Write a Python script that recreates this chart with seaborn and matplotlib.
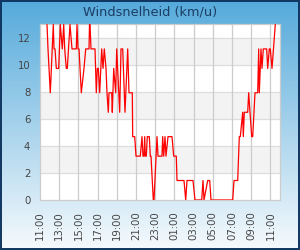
import numpy as np
import pandas as pd
import matplotlib
matplotlib.use("Agg")
import matplotlib.pyplot as plt
from matplotlib.patches import Rectangle
import seaborn as sns

px = [47, 48, 50.3, 53.3, 54, 55, 56.3, 58.7, 60.3, 62.3, 63.7, 64.7, 66.3, 67.3, 70, 72, 76.3, 77, 78, 79,
      81.3, 84, 85.7, 89, 89.5, 90, 91, 95, 96.3, 97.3, 98.3, 99.7, 101.7, 103, 104.3, 106, 107, 108.3, 109,
      111.7, 112.3, 113.7, 115.7, 116.7, 119.7, 121, 122.7, 125, 127.7, 129, 132.3, 132.7, 134.7, 136, 140.3,
      142, 143, 144, 144.7, 145.3, 146.3, 147.3, 149.3, 150.3, 151, 153.3, 154, 157, 158, 162, 162.7, 163.7,
      165, 166, 168, 172, 173.7, 176.3, 177, 184, 185.7, 187, 193, 195, 201.7, 203, 204, 207.7, 209.7, 211,
      232.7, 234, 237.7, 239.3, 240.3, 242.7, 243.3, 244.3, 247.7, 248.7, 250, 251.7, 252.7, 255, 257.7,
      258.7, 259.3, 261, 262, 263.3, 266.7, 267.7, 269.3, 270.3, 272, 275.3]
speed = [12.96, 11.16, 7.92, 12.96, 11.16, 11.16, 9.72, 9.72, 12.96, 11.16, 12.96, 11.16, 9.72, 9.72, 12.96,
         11.16, 11.16, 12.96, 11.16, 11.16, 7.92, 9.72, 11.16, 11.16, 12.96, 12.96, 11.16, 11.16, 7.92, 9.72,
         9.72, 7.92, 11.16, 9.72, 11.16, 9.72, 7.92, 6.48, 7.92, 7.92, 6.48, 9.72, 7.92, 11.16, 6.48, 11.16,
         11.16, 6.48, 11.16, 7.92, 7.92, 4.68, 4.68, 3.24, 3.24, 4.68, 3.24, 3.24, 4.68, 3.24, 3.24, 4.68,
         4.68, 3.24, 3.24, 0, 0, 4.68, 3.24, 3.24, 4.68, 3.24, 4.68, 3.24, 4.68, 4.68, 3.24, 3.24, 1.44,
         1.44, 0, 1.44, 1.44, 0, 0, 1.44, 0, 1.44, 1.44, 0, 0, 1.44, 1.44, 4.68, 4.68, 6.48, 4.68, 6.48,
         6.48, 7.92, 6.48, 4.68, 4.68, 7.92, 7.92, 11.16, 7.92, 11.16, 9.72, 11.16, 11.16, 9.72, 11.16,
         11.16, 9.72, 12.96]
hours = [(p - 40) / 9.6 for p in px]

tick_hours = list(range(0, 25, 2))
tick_labels = ["11:00", "13:00", "15:00", "17:00", "19:00", "21:00", "23:00",
               "01:00", "03:00", "05:00", "07:00", "09:00", "11:00"]
y_ticks = [0, 2, 4, 6, 8, 10, 12]
title = "Windsnelheid (km/u)"

df = pd.DataFrame({"uur": hours, "snelheid": speed})

sns.set_style("white")
plt.rcParams['font.family'] = ['DejaVu Sans']

fig = plt.figure(figsize=(3, 2.5), dpi=100)

# gradient background
bg = fig.add_axes([0, 0, 1, 1], zorder=-10)
top = np.array([85, 170, 219]) / 255
bot = np.array([246, 250, 253]) / 255
t = np.linspace(0, 1, 250)[:, None]
grad = (top[None, :] * (1 - t) + bot[None, :] * t)[:, None, :]
bg.imshow(grad, aspect='auto', extent=[0, 1, 0, 1])
bg.set_axis_off()
fig.patches.append(Rectangle((0.002, 0.003), 0.995, 0.994, transform=fig.transFigure,
                             fill=False, edgecolor='#0f3560', linewidth=1.4))

ax = fig.add_axes([40 / 300, 50 / 250, 240 / 300, 176 / 250])
ax.set_facecolor('white')
for lo in [2, 6, 10]:
    ax.axhspan(lo, lo + 2, color='#f3f3f3', zorder=0, lw=0)
for yv in y_ticks[1:]:
    ax.axhline(yv, color='#dddddd', lw=0.9, zorder=1)
for xv in tick_hours[1:]:
    ax.axvline(xv, color='#cccccc', lw=0.9, zorder=1)

sns.lineplot(data=df, x="uur", y="snelheid", ax=ax, color='#ff0000', lw=0.9, zorder=3)

ax.set_xlim(0, 25)
ax.set_ylim(0, 13)
ax.set_xticks(tick_hours)
ax.set_xticklabels(tick_labels, rotation=90)
ax.set_yticks(y_ticks)
ax.set_xlabel("")
ax.set_ylabel("")
ax.tick_params(axis='both', length=0, labelsize=7.3, colors='#444444')
ax.tick_params(axis='x', pad=8)
ax.tick_params(axis='y', pad=7)
for s in ax.spines.values():
    s.set_color('#cccccc')
    s.set_linewidth(0.9)
ax.grid(False)

fig.text(0.5, 0.952, title, ha='center', va='center', fontsize=9.3, color='#1c3d63')

fig.savefig("out.png", dpi=100)
